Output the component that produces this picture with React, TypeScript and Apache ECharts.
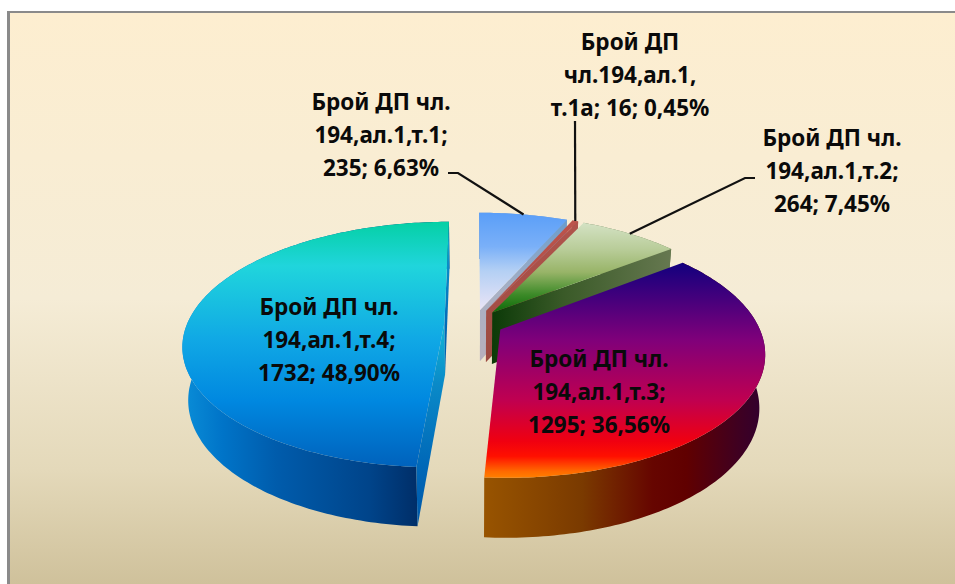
import React, { useEffect, useRef } from "react";
import * as echarts from "echarts";

const values = [235, 16, 264, 1295, 1732];
const labelHeads = [
  "Брой ДП чл.\n194,ал.1,т.1;\n",
  "Брой ДП\nчл.194,ал.1,\nт.1а; ",
  "Брой ДП чл.\n194,ал.1,т.2;\n",
  "Брой ДП чл.\n194,ал.1,т.3;\n",
  "Брой ДП чл.\n194,ал.1,т.4;\n",
];
const percents = ["6,63", "0,45", "7,45", "36,56", "48,90"];

// Label placement: text centre, and the elbow of the leader line (null = no leader).
const labelCentres = [[381, 134], [630, 74], [832, 170], [599, 391], [329, 339]];
const elbows: (number[][] | null)[] = [
  [[448, 173], [458, 173]],
  [[575, 121]],
  [[755, 178], [745, 178]],
  null,
  null,
];

const c = (stops: [number, string][], x2: number, y2: number, x = 0, y = 0) =>
  new echarts.graphic.LinearGradient(x, y, x2, y2, stops.map(([offset, color]) => ({ offset, color })));

const topFills = [
  c([[0, "#5a9ef8"], [0.35, "#7ab0f8"], [0.6, "#b4d0f4"], [1, "#eae4f6"]], 0, 1),
  c([[0, "#bc544c"], [1, "#b04c44"]], 0, 1),
  c([[0, "#d4e2c4"], [0.3, "#b8cc98"], [0.55, "#98b468"], [0.8, "#3c8a28"], [1, "#0c6a08"]], 0, 1),
  c([[0, "#12007e"], [0.36, "#80007a"], [0.64, "#c00050"], [0.83, "#f00010"], [0.9, "#ff1000"], [0.97, "#ff6a00"], [1, "#ff8000"]], 0, 1),
  c([[0, "#05d0a5"], [0.18, "#20d5dc"], [0.48, "#10a8e5"], [0.73, "#0088e0"], [1, "#0062bc"]], 0, 1),
];
const arcFills = [
  "#7fa4cc",
  "#a04a40",
  "#667850",
  c([[0, "#985400"], [0.35, "#7a3a00"], [0.6, "#660500"], [0.72, "#600000"], [0.9, "#400020"], [1, "#300030"]], 1, 0),
  c([[0, "#0a8ed8"], [0.15, "#0074c8"], [0.35, "#005cac"], [0.7, "#00448a"], [0.88, "#002e68"], [1, "#002e68"]], 1, 0),
];
const radialFills = [
  c([[0, "#6a9ccc"], [0.5, "#a8b0c4"], [1, "#b8b0bc"]], 0, 1),
  c([[0, "#b0544c"], [1, "#9c4a40"]], 0, 1),
  c([[0, "#667850"], [0.6, "#3a5a28"], [1, "#0c3a08"]], 0, 0, 1, 0),
  "#5a2000",
  c([[0, "#12b8d8"], [0.3, "#0a8ac8"], [0.7, "#0068b8"], [1, "#0058a8"]], 0, 1),
];

// Projection of the pie's plane.
const CX = 474, CY = 323, RX = 257, RY = 119, PERSP = 0.18, EXPLODE = 0.115, WALL = 52;
const FONT = 'bold 22.5px "Noto Sans"';
const total = values.reduce((a, b) => a + b, 0);

const proj = (mid: number, th: number, r: number) => {
  const u = EXPLODE * Math.sin(mid) + r * Math.sin(th);
  const v = EXPLODE * Math.cos(mid) + r * Math.cos(th);
  const s = 1 / (1 + PERSP * v);
  return { x: CX + RX * u * s, y: CY - RY * v * s, s };
};
const low = (p: { x: number; y: number; s: number }) => [
  CX + (p.x - CX) * 0.98,
  p.y + WALL * (1 + 0.65 * (p.s - 1)),
];

function renderItem(params: any, api: any) {
  const i = params.dataIndex;
  const value = api.value(0);
  const before = values.slice(0, i).reduce((a, b) => a + b, 0);
  const a0 = (before / total) * Math.PI * 2;
  const a1 = ((before + value) / total) * Math.PI * 2;
  const mid = (a0 + a1) / 2;
  const n = Math.max(2, Math.ceil(((a1 - a0) * 180) / Math.PI));
  const arc = Array.from({ length: n + 1 }, (_, k) => proj(mid, a0 + ((a1 - a0) * k) / n, 1));
  const apex = proj(mid, 0, 0);
  const xy = (p: { x: number; y: number }) => [p.x, p.y];

  const children: any[] = [];
  children.push({
    type: "polygon",
    shape: { points: [...arc.map(xy), ...arc.slice().reverse().map(low)] },
    style: { fill: arcFills[i] },
  });
  const startWall = [xy(apex), xy(arc[0]), low(arc[0]), low(apex)];
  const endWall = [xy(apex), xy(arc[n]), low(arc[n]), low(apex)];
  if (Math.sin(a0) < -1e-6) children.push({ type: "polygon", shape: { points: startWall }, style: { fill: radialFills[i] } });
  if (Math.sin(a1) > -1e-6) children.push({ type: "polygon", shape: { points: endWall }, style: { fill: radialFills[i] } });
  children.push({
    type: "polygon",
    shape: { points: [xy(apex), ...arc.map(xy)] },
    style: { fill: topFills[i] },
  });
  const elbow = elbows[i];
  if (elbow) {
    children.push({
      type: "polyline",
      shape: { points: [...elbow, xy(proj(mid, mid, 1))] },
      style: { stroke: "#111", lineWidth: 2.2, fill: "none" },
    });
  }
  children.push({
    type: "text",
    style: {
      text: `${labelHeads[i]}${value}; ${percents[i]}%`,
      x: labelCentres[i][0],
      y: labelCentres[i][1],
      align: "center",
      verticalAlign: "middle",
      font: FONT,
      lineHeight: 33,
      fill: "#0a0a0a",
    },
  });
  return { type: "group", children };
}

export default function App() {
  const ref = useRef<HTMLDivElement>(null);
  useEffect(() => {
    document.body.style.margin = "0";
    const chart = echarts.init(ref.current!, null, { renderer: "svg" });
    chart.setOption({
      animation: false,
      backgroundColor: "#ffffff",
      graphic: [
        {
          type: "rect",
          z: -10,
          shape: { x: 7, y: 11, width: 948, height: 573 },
          style: { fill: "#8a8a8a" },
        },
        {
          type: "rect",
          z: -9,
          shape: { x: 10, y: 13, width: 945, height: 571 },
          style: {
            fill: c([[0, "#fdeed0"], [0.5, "#f5ecd6"], [0.8, "#e4d9ba"], [1, "#cfc19b"]], 0, 1),
          },
        },
      ],
      series: [
        {
          type: "custom",
          coordinateSystem: "none",
          silent: true,
          clip: false,
          data: values.map((v) => [v]),
          renderItem,
        },
      ],
    });
    return () => chart.dispose();
  }, []);
  return <div ref={ref} style={{ width: 955, height: 584 }} />;
}
